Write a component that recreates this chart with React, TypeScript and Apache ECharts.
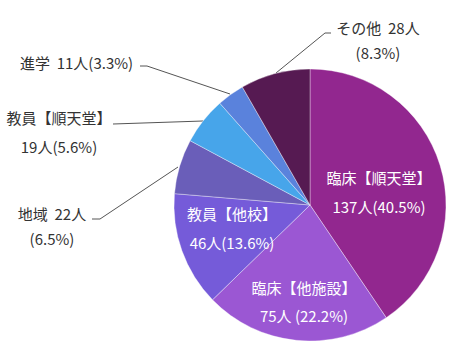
import React, { useEffect, useRef } from "react";
import * as echarts from "echarts";

const names = ["臨床【順天堂】", "臨床【他施設】", "教員【他校】", "地域", "教員【順天堂】", "進学", "その他"];
const values = [137, 75, 46, 22, 19, 11, 28];
const colors = ["#92278F", "#9B57D3", "#755BD9", "#6A5EB9", "#47A5EA", "#5A82DC", "#561A52"];
// label text patterns: {n}=name, {v}=value, {p}=percent
const labelFormats = [
  "{n}\n{v}人({p}%)",
  "{n}\n{v}人 ({p}%)",
  "{n}\n{v}人({p}%)",
  "{n}  {v}人\n({p}%)",
  "{n}\n{v}人({p}%)",
  "{n}  {v}人({p}%)",
  "{n}  {v}人\n({p}%)",
];
const insideLabel = [true, true, true, false, false, false, false];

// label placement (layout only)
const labelPos = [
  { x: 379, y: 191.5, align: "center", lh: 29 },
  { x: 304, y: 301, align: "center", lh: 28 },
  { x: 232, y: 227.5, align: "center", lh: 29 },
  { x: 52, y: 225.5, align: "center", lh: 25 },
  { x: 59, y: 132, align: "center", lh: 29.5 },
  { x: 20, y: 62, align: "left", lh: 20 },
  { x: 378, y: 39.5, align: "center", lh: 25 },
];
const linePoints: (number[][] | null)[] = [
  null,
  null,
  null,
  [[178, 167], [100, 219], [92, 219]],
  [[203, 121], [113, 124]],
  [[230, 94], [147, 66], [140, 66]],
  [[276, 73], [325, 33], [331, 33]],
];

const total = values.reduce((a, b) => a + b, 0);
const FONT = "'Noto Sans CJK JP', 'Noto Sans', sans-serif";

export default function App() {
  const ref = useRef<HTMLDivElement>(null);
  useEffect(() => {
    if (!ref.current) return;
    const chart = echarts.init(ref.current, undefined, { renderer: "svg" });
    const data = names.map((n, i) => {
      const p = ((values[i] / total) * 100).toFixed(1);
      const text = labelFormats[i].replace("{n}", n).replace("{v}", String(values[i])).replace("{p}", p);
      return {
        name: n,
        value: values[i],
        itemStyle: { color: colors[i] },
        label: {
          show: true,
          position: insideLabel[i] ? "inside" : "outside",
          formatter: () => text,
          color: insideLabel[i] ? "#ffffff" : "#333333",
          fontSize: 15,
          fontFamily: FONT,
          lineHeight: labelPos[i].lh,
          align: labelPos[i].align,
        },
        labelLine: {
          show: !insideLabel[i],
          lineStyle: { color: "#555555", width: 1 },
        },
      };
    });
    chart.setOption({
      animation: false,
      backgroundColor: "#ffffff",
      series: [
        {
          type: "pie",
          center: [310, 205],
          radius: 136,
          startAngle: 90,
          clockwise: true,
          avoidLabelOverlap: false,
          itemStyle: { borderColor: "rgba(255,255,255,0.45)", borderWidth: 0.8 },
          emphasis: { disabled: true },
          data,
          labelLayout: (params: any) => {
            const i = params.dataIndex;
            const lp = labelPos[i];
            const res: any = {
              x: lp.x,
              y: lp.y,
              align: lp.align,
              verticalAlign: "middle",
            };
            if (linePoints[i]) res.labelLinePoints = linePoints[i];
            return res;
          },
        },
      ],
    });
    return () => chart.dispose();
  }, []);
  return (
    <div
      ref={ref}
      style={{ position: "fixed", left: 0, top: 0, width: 470, height: 353 }}
    />
  );
}
